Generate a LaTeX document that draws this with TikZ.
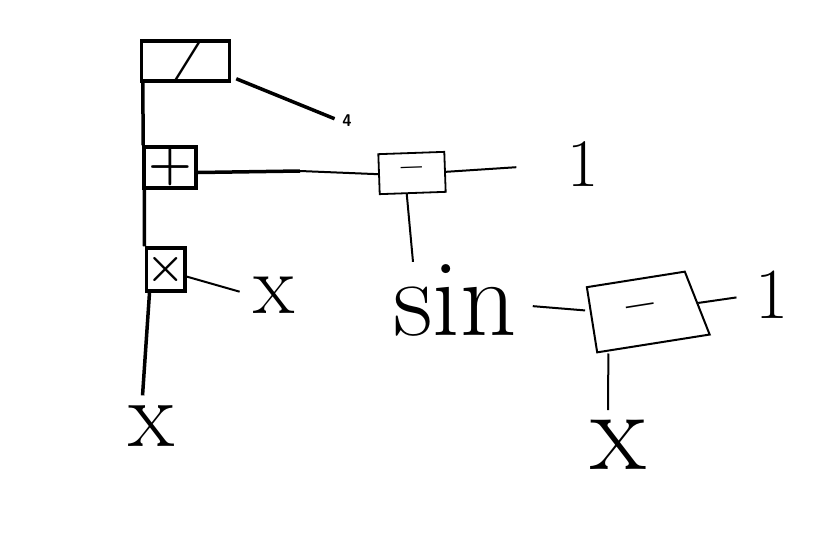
\documentclass[tikz,border=0pt]{standalone}
\usepackage{tikz}
\usetikzlibrary{positioning,calc,shapes.geometric}

\begin{document}
\begin{tikzpicture}[%
    x=1pt, y=-1pt,
    opbox/.style={rectangle, draw=black, line width=3.5pt, inner sep=0pt, align=center},
    subbox/.style={rectangle, draw=black, line width=1.8pt, inner sep=0pt, align=center},
    heavy/.style={line width=3.5pt, black},
    wire/.style={line width=2pt, black},
    hand/.style={inner sep=2pt, font=\fontsize{#1}{#1}\selectfont}
  ]
  \useasboundingbox (0,0) rectangle (827,552);

  % Nodes
  \node[opbox, minimum width=88pt, minimum height=37pt, font=\fontsize{40}{40}\selectfont\bfseries\itshape] (div) at (185.5,61) {/};
  \node[opbox, minimum width=52pt, minimum height=41pt, font=\fontsize{50}{50}\selectfont\bfseries] (plus) at (170,167.5) {+};
  \node[opbox, minimum width=37pt, minimum height=43pt, font=\fontsize{44}{44}\selectfont\bfseries] (times) at (165.5,269.5) {×};
  \node[subbox, minimum width=66pt, minimum height=40pt, rotate=2, font=\fontsize{38}{38}\selectfont\bfseries] (minus1) at (412,173) {–};
  \node[trapezium, trapezium stretches=true, draw=black, line width=2pt, inner sep=0pt, minimum width=114pt, minimum height=66pt,
        trapezium left angle=90, trapezium right angle=74, rotate=9, font=\fontsize{50}{50}\selectfont\bfseries] (minus2) at (641,312) {–};

  \node[inner sep=2pt, font=\fontsize{17}{17}\selectfont\sffamily\bfseries] (four) at (347,121) {4};
  \node[hand=68] (one1) at (583,164) {1};
  \node[hand=110] (sin) at (455,300) {sin};
  \node[hand=85] (xa) at (274,295) {x};
  \node[hand=95] (xb) at (152,426) {x};
  \node[hand=72] (one2) at (772,295) {1};
  \node[hand=115] (xc) at (618,445) {x};
  \coordinate (bend) at (300,171);

  % Connections
  \draw[heavy, shorten >=6pt] ([xshift=5pt,yshift=4pt]div.south east) -- (four.west);
  \draw[heavy] ([xshift=3pt]div.south west) -- ([xshift=1pt]plus.north west);
  \draw[heavy] ([yshift=-5pt]plus.east) -- (bend);
  \draw[wire] (bend) -- (minus1.west);
  \draw[wire, shorten >=49pt] (minus1.east) -- (one1.west);
  \draw[wire] ([xshift=-6pt]minus1.south) -- ([xshift=-42pt]sin.north);
  \draw[heavy] ([xshift=2pt]plus.south west) -- (times.north west);
  \draw[wire, shorten >=12pt] ([yshift=-7pt]times.east) -- (xa.west);
  \draw[heavy, shorten >=8pt] ([xshift=5pt]times.south west) -- ([xshift=-10pt]xb.north);
  \draw[wire, shorten <=14pt, shorten >=6pt] ([yshift=-5pt]sin.east) -- ([yshift=9pt]minus2.west);
  \draw[wire, shorten >=17pt] (minus2.east) -- (one2.west);
  \draw[wire, shorten >=8pt] ([xshift=12pt]minus2.bottom left corner) -- ([xshift=-10pt]xc.north);
\end{tikzpicture}
\end{document}
